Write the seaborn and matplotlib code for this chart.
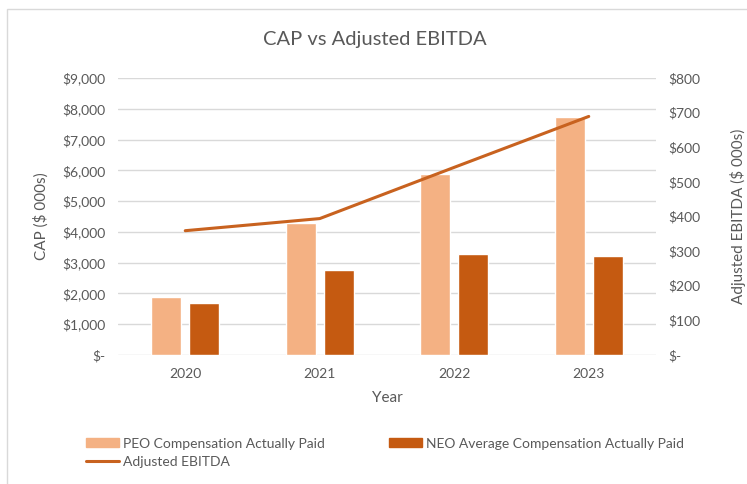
import numpy as np
import pandas as pd
import seaborn as sns
import matplotlib.pyplot as plt
from matplotlib.patches import Rectangle
from matplotlib.ticker import FuncFormatter

years = ["2020", "2021", "2022", "2023"]
peo_cap = [1890, 4305, 5885, 7740]
neo_cap = [1680, 2765, 3285, 3220]
adj_ebitda = [359, 394, 542, 689]

peo_label = "PEO Compensation Actually Paid"
neo_label = "NEO Average Compensation Actually Paid"
line_label = "Adjusted EBITDA"

grey = "#595959"
light_orange = "#F4B183"
dark_orange = "#C55A11"
line_orange = "#C8621F"

sns.set_theme(style="white")
plt.rcParams["font.family"] = ["Lato", "DejaVu Sans"]

bars = pd.DataFrame({
    "Year": years * 2,
    "CAP": peo_cap + neo_cap,
    "Series": [peo_label] * len(years) + [neo_label] * len(years),
})

fig = plt.figure(figsize=(7.47, 4.84), dpi=100)
ax = fig.add_axes([118 / 747, 1 - 355 / 484, (656 - 118) / 747, (355 - 78) / 484])

sns.barplot(data=bars, x="Year", y="CAP", hue="Series",
            palette=[light_orange, dark_orange], width=0.56, gap=0.2,
            saturation=1, ax=ax, legend=False)

ax2 = ax.twinx()
sns.lineplot(x=np.arange(len(years)), y=adj_ebitda, color=line_orange,
             linewidth=2.2, ax=ax2)

def dollars(v, pos):
    if v == 0:
        return "$-"
    return "${:,.0f}".format(v)

ax.set_ylim(0, 9000)
ax.set_yticks(np.arange(0, 9001, 1000))
ax.yaxis.set_major_formatter(FuncFormatter(dollars))
ax2.set_ylim(0, 800)
ax2.set_yticks(np.arange(0, 801, 100))
ax2.yaxis.set_major_formatter(FuncFormatter(dollars))
ax.set_xlim(-0.5, len(years) - 0.5)

ax.yaxis.grid(True, color="#D9D9D9", linewidth=1)
ax.set_axisbelow(True)
for a in (ax, ax2):
    for s in a.spines.values():
        s.set_visible(False)
    a.tick_params(length=0, labelsize=10, colors=grey)
ax.tick_params(axis="y", pad=9)
ax2.tick_params(axis="y", pad=9)
ax.tick_params(axis="x", pad=9)

ax.set_xlabel("Year", fontsize=11, color=grey, labelpad=8)
ax.set_ylabel("CAP ($ 000s)", fontsize=11, color=grey, labelpad=10)
ax2.set_ylabel("Adjusted EBITDA ($ 000s)", fontsize=11, color=grey, labelpad=21)

fig.text(0.502, 1 - 40 / 484, "CAP vs Adjusted EBITDA", ha="center", va="center",
         fontsize=14.5, color=grey)

# chart border
fig.patches.append(Rectangle((7 / 747, -0.1), 1.2, 1 - 9 / 484 + 0.1,
                             transform=fig.transFigure, fill=False,
                             edgecolor="#D9D9D9", linewidth=1))

h_peo = Rectangle((0, 0), 1, 1, color=light_orange)
h_neo = Rectangle((0, 0), 1, 1, color=dark_orange)
h_line = plt.Line2D([], [], color=line_orange, linewidth=2.2)
fig.legend([h_peo, h_line, h_neo], [peo_label, line_label, neo_label],
           ncol=2, loc="upper left", bbox_to_anchor=(80 / 747, 1 - 432 / 484),
           frameon=False, fontsize=10, labelcolor=grey, handlelength=2.4,
           handleheight=0.6, handletextpad=0.3, columnspacing=4.6,
           labelspacing=0.45, borderaxespad=0)

fig.savefig("out.png", dpi=100)
